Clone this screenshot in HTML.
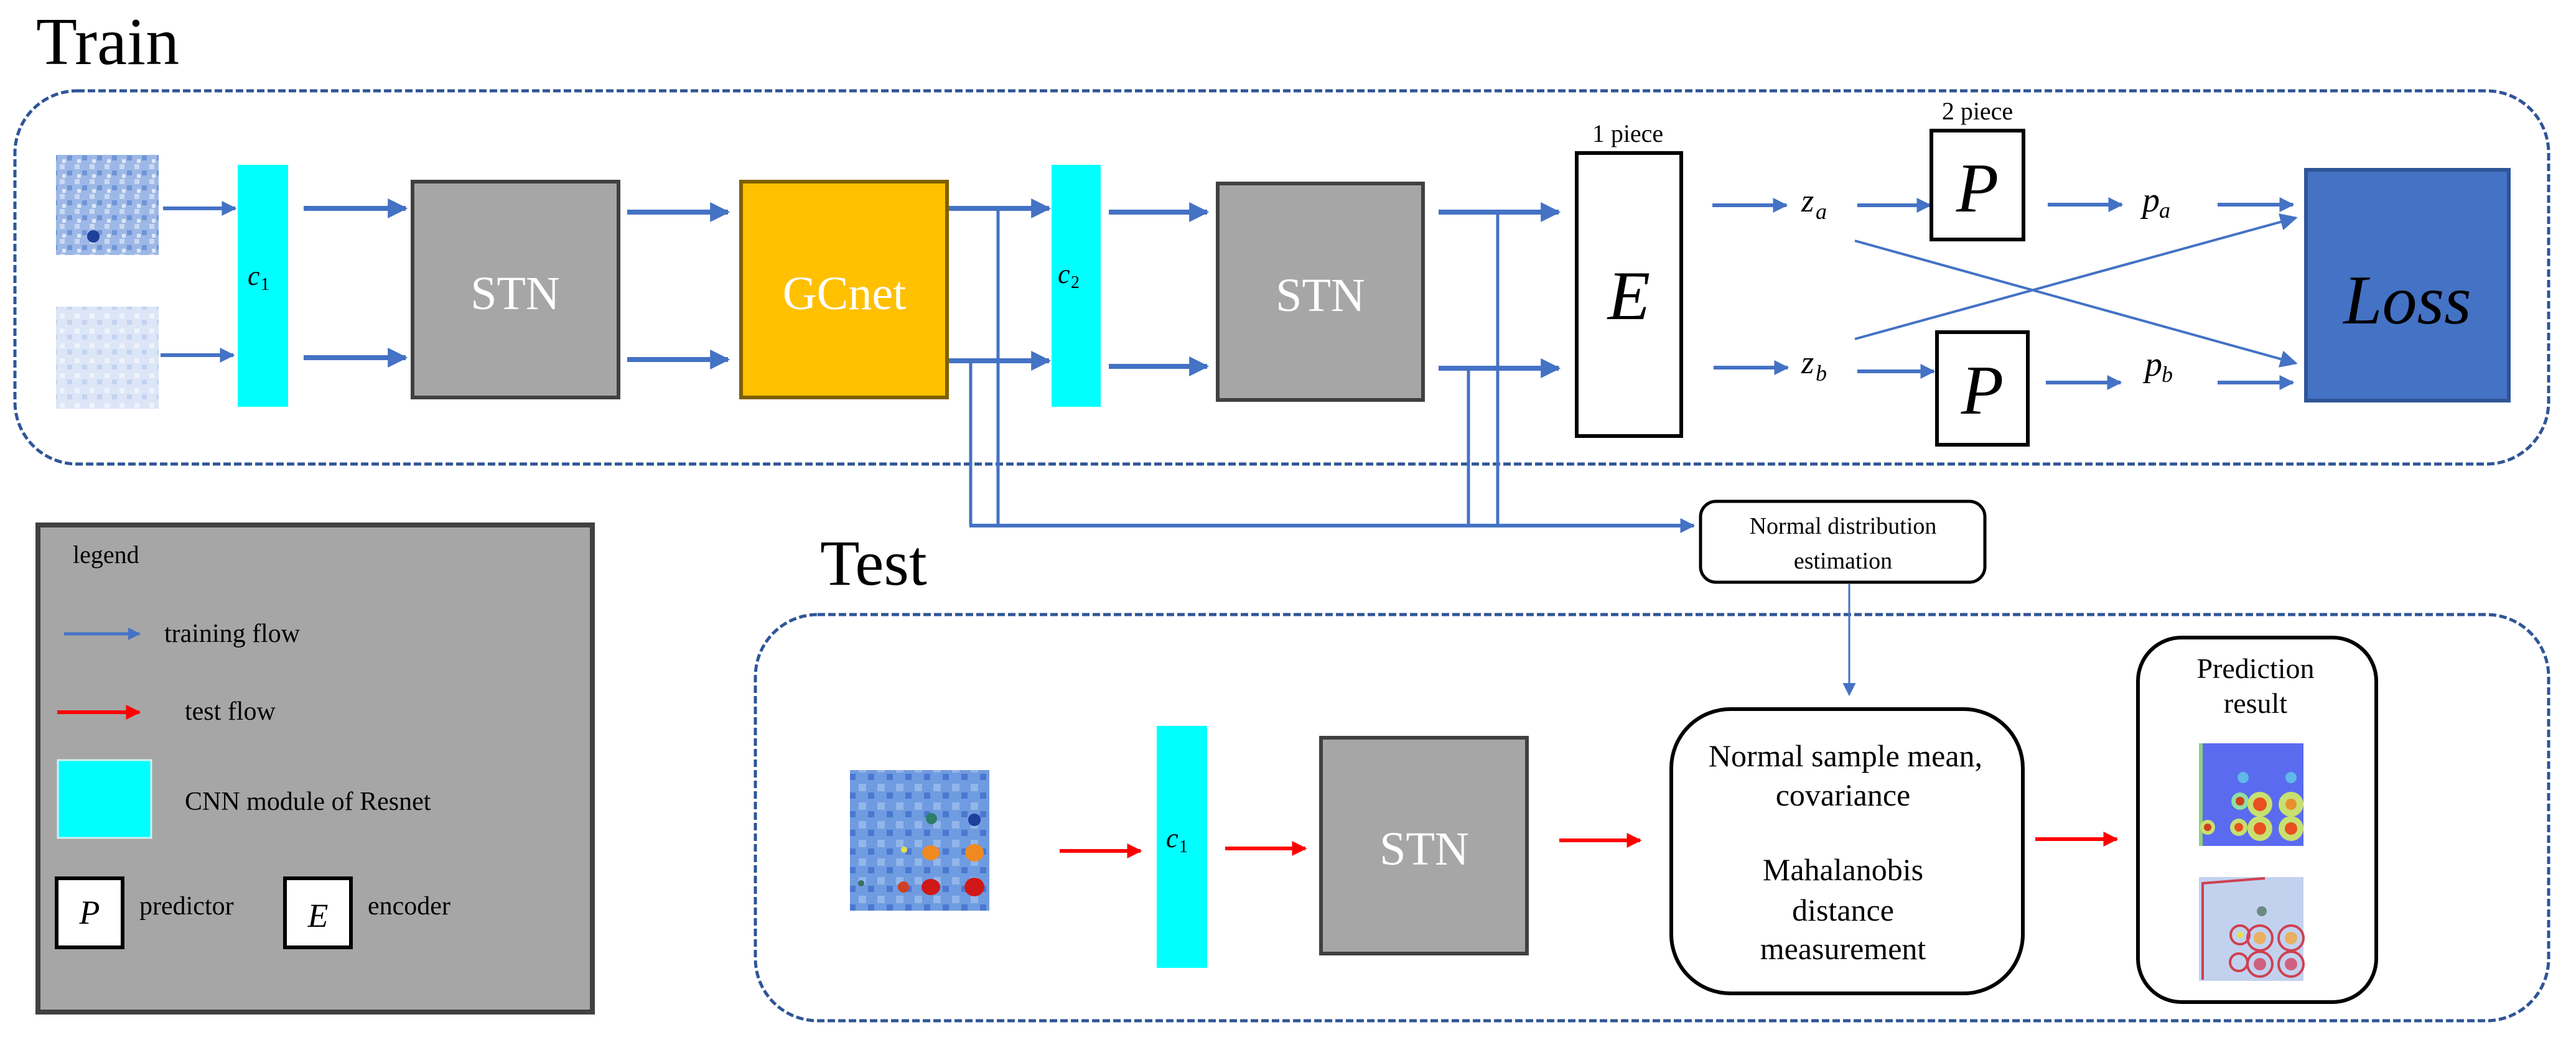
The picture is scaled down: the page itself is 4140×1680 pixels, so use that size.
<!DOCTYPE html>
<html><head><meta charset="utf-8"><style>
html,body{margin:0;padding:0;background:#fff;}
svg{display:block;}
svg text{font-family:"Liberation Serif","DejaVu Serif","Noto Serif CJK SC",serif;}
</style></head><body>
<svg width="4140" height="1680" viewBox="0 0 4140 1680" xmlns="http://www.w3.org/2000/svg">
<defs>
<marker id="ab" viewBox="0 0 10 10" refX="9" refY="5" markerWidth="4" markerHeight="4" orient="auto" markerUnits="strokeWidth"><path d="M0,0 L10,5 L0,10 z" fill="#4472C4"/></marker>
<marker id="abs" viewBox="0 0 10 10" refX="9" refY="5" markerWidth="7" markerHeight="7" orient="auto" markerUnits="strokeWidth"><path d="M0,0 L10,5 L0,10 z" fill="#4472C4"/></marker>
<marker id="ar" viewBox="0 0 10 10" refX="9" refY="5" markerWidth="4" markerHeight="4" orient="auto" markerUnits="strokeWidth"><path d="M0,0 L10,5 L0,10 z" fill="#FF0000"/></marker>
<pattern id="n1" width="24" height="24" patternUnits="userSpaceOnUse"><rect width="24" height="24" fill="#9DB8E6"/><rect x="0" y="0" width="8" height="8" fill="#C9D9F2"/><rect x="12" y="10" width="8" height="8" fill="#6F95D8"/><rect x="4" y="16" width="6" height="6" fill="#DDE7F7"/></pattern>
<pattern id="n2" width="24" height="24" patternUnits="userSpaceOnUse"><rect width="24" height="24" fill="#DCE6F7"/><rect x="0" y="0" width="8" height="8" fill="#EEF3FB"/><rect x="12" y="10" width="8" height="8" fill="#C3D4F0"/></pattern>
<pattern id="n3" width="30" height="30" patternUnits="userSpaceOnUse"><rect width="30" height="30" fill="#6F9BE0"/><rect x="0" y="0" width="12" height="12" fill="#93B6EA"/><rect x="15" y="14" width="10" height="10" fill="#4A78D0"/></pattern>
</defs>
<text x="58" y="103" font-size="108">Train</text>
<text x="1318" y="940" font-size="104">Test</text>

<rect x="24" y="146" width="4072" height="600" rx="100" ry="100" fill="none" stroke="#2F5597" stroke-width="5" stroke-dasharray="12,5"/>
<rect x="1214" y="988" width="2882" height="653" rx="100" ry="100" fill="none" stroke="#2F5597" stroke-width="5" stroke-dasharray="12,5"/>

<rect x="90" y="249" width="165" height="161" fill="url(#n1)"/>
<circle cx="150" cy="380" r="10" fill="#1E3F9A"/>
<rect x="90" y="493" width="165" height="164" fill="url(#n2)"/>

<rect x="382" y="265" width="81" height="389" fill="#00FFFF"/>
<text x="398" y="458" font-size="44" font-style="italic">c</text><text x="419" y="466" font-size="28">1</text>

<line x1="262" y1="335" x2="378" y2="335" stroke="#4472C4" stroke-width="6" marker-end="url(#ab)"/>
<line x1="258" y1="571" x2="375" y2="571" stroke="#4472C4" stroke-width="6" marker-end="url(#ab)"/>
<line x1="488" y1="335" x2="652" y2="335" stroke="#4472C4" stroke-width="8" marker-end="url(#ab)"/>
<line x1="488" y1="575" x2="652" y2="575" stroke="#4472C4" stroke-width="8" marker-end="url(#ab)"/>

<rect x="663" y="292" width="331" height="347" fill="#A6A6A6" stroke="#404040" stroke-width="6"/>
<text x="828" y="497" font-size="76" fill="#fff" text-anchor="middle">STN</text>

<line x1="1008" y1="341" x2="1170" y2="341" stroke="#4472C4" stroke-width="8" marker-end="url(#ab)"/>
<line x1="1008" y1="578" x2="1170" y2="578" stroke="#4472C4" stroke-width="8" marker-end="url(#ab)"/>

<rect x="1191" y="292" width="331" height="347" fill="#FFC000" stroke="#7F6000" stroke-width="6"/>
<text x="1357" y="497" font-size="76" fill="#fff" text-anchor="middle">GCnet</text>

<line x1="1525" y1="335" x2="1686" y2="335" stroke="#4472C4" stroke-width="8" marker-end="url(#ab)"/>
<line x1="1525" y1="580" x2="1686" y2="580" stroke="#4472C4" stroke-width="8" marker-end="url(#ab)"/>

<rect x="1690" y="265" width="79" height="389" fill="#00FFFF"/>
<text x="1700" y="455" font-size="44" font-style="italic">c</text><text x="1721" y="463" font-size="28">2</text>

<line x1="1782" y1="341" x2="1940" y2="341" stroke="#4472C4" stroke-width="8" marker-end="url(#ab)"/>
<line x1="1782" y1="589" x2="1940" y2="589" stroke="#4472C4" stroke-width="8" marker-end="url(#ab)"/>

<rect x="1957" y="295" width="330" height="348" fill="#A6A6A6" stroke="#404040" stroke-width="6"/>
<text x="2122" y="500" font-size="76" fill="#fff" text-anchor="middle">STN</text>

<line x1="2312" y1="341" x2="2505" y2="341" stroke="#4472C4" stroke-width="8" marker-end="url(#ab)"/>
<line x1="2312" y1="592" x2="2505" y2="592" stroke="#4472C4" stroke-width="8" marker-end="url(#ab)"/>

<g stroke="#4472C4" stroke-width="5" fill="none">
<line x1="1604" y1="335" x2="1604" y2="845"/>
<line x1="1560" y1="580" x2="1560" y2="845"/>
<line x1="2407" y1="341" x2="2407" y2="845"/>
<line x1="2360" y1="592" x2="2360" y2="845"/>
</g>
<line x1="1558" y1="845" x2="2722" y2="845" stroke="#4472C4" stroke-width="6" marker-end="url(#ab)"/>

<text x="2616" y="228" font-size="40" text-anchor="middle">1 piece</text>
<rect x="2534" y="246" width="168" height="455" fill="#fff" stroke="#000" stroke-width="6"/>
<text x="2618" y="513" font-size="112" font-style="italic" text-anchor="middle">E</text>

<line x1="2752" y1="330" x2="2871" y2="330" stroke="#4472C4" stroke-width="6" marker-end="url(#ab)"/>
<text x="2895" y="340" font-size="52" font-style="italic">z</text><text x="2918" y="352" font-size="36" font-style="italic">a</text>
<line x1="2985" y1="330" x2="3102" y2="330" stroke="#4472C4" stroke-width="6" marker-end="url(#ab)"/>
<line x1="2754" y1="591" x2="2873" y2="591" stroke="#4472C4" stroke-width="6" marker-end="url(#ab)"/>
<text x="2895" y="600" font-size="52" font-style="italic">z</text><text x="2918" y="612" font-size="36" font-style="italic">b</text>
<line x1="2985" y1="597" x2="3108" y2="597" stroke="#4472C4" stroke-width="6" marker-end="url(#ab)"/>

<text x="3178" y="192" font-size="40" text-anchor="middle">2 piece</text>
<rect x="3104" y="210" width="148" height="175" fill="#fff" stroke="#000" stroke-width="6"/>
<text x="3178" y="340" font-size="112" font-style="italic" text-anchor="middle">P</text>
<rect x="3113" y="534" width="146" height="181" fill="#fff" stroke="#000" stroke-width="6"/>
<text x="3186" y="665" font-size="112" font-style="italic" text-anchor="middle">P</text>

<line x1="3291" y1="329" x2="3410" y2="329" stroke="#4472C4" stroke-width="6" marker-end="url(#ab)"/>
<text x="3443" y="340" font-size="56" font-style="italic">p</text><text x="3470" y="350" font-size="36" font-style="italic">a</text>
<line x1="3564" y1="329" x2="3685" y2="329" stroke="#4472C4" stroke-width="6" marker-end="url(#ab)"/>
<line x1="3288" y1="615" x2="3408" y2="615" stroke="#4472C4" stroke-width="6" marker-end="url(#ab)"/>
<text x="3447" y="604" font-size="56" font-style="italic">p</text><text x="3474" y="614" font-size="36" font-style="italic">b</text>
<line x1="3564" y1="615" x2="3685" y2="615" stroke="#4472C4" stroke-width="6" marker-end="url(#ab)"/>

<line x1="2981" y1="387" x2="3690" y2="584" stroke="#4472C4" stroke-width="4" marker-end="url(#abs)"/>
<line x1="2981" y1="545" x2="3690" y2="350" stroke="#4472C4" stroke-width="4" marker-end="url(#abs)"/>

<rect x="3706" y="273" width="326" height="371" fill="#4472C4" stroke="#2F5597" stroke-width="6"/>
<text x="3869" y="520" font-size="112" font-style="italic" text-anchor="middle">Loss</text>

<rect x="61" y="844" width="891" height="783" fill="#A6A6A6" stroke="#404040" stroke-width="8"/>
<text x="117" y="905" font-size="40">legend</text>
<line x1="103" y1="1019" x2="224" y2="1019" stroke="#4472C4" stroke-width="5" marker-end="url(#ab)"/>
<text x="264" y="1032" font-size="42">training flow</text>
<line x1="92" y1="1145" x2="224" y2="1145" stroke="#FF0000" stroke-width="6" marker-end="url(#ar)"/>
<text x="297" y="1157" font-size="42">test flow</text>
<rect x="93" y="1222" width="150" height="125" fill="#00FFFF" stroke="#D0F0F0" stroke-width="3"/>
<text x="297" y="1302" font-size="42">CNN module of Resnet</text>
<rect x="91" y="1412" width="106" height="111" fill="#fff" stroke="#000" stroke-width="6"/>
<text x="144" y="1485" font-size="54" font-style="italic" text-anchor="middle">P</text>
<text x="224" y="1470" font-size="42">predictor</text>
<rect x="458" y="1412" width="106" height="111" fill="#fff" stroke="#000" stroke-width="6"/>
<text x="511" y="1490" font-size="54" font-style="italic" text-anchor="middle">E</text>
<text x="591" y="1470" font-size="42">encoder</text>

<rect x="2733" y="806" width="457" height="130" rx="25" ry="25" fill="#fff" stroke="#000" stroke-width="5"/>
<text x="2962" y="858" font-size="38" text-anchor="middle">Normal distribution</text>
<text x="2962" y="914" font-size="38" text-anchor="middle">estimation</text>
<line x1="2972" y1="939" x2="2972" y2="1117" stroke="#4472C4" stroke-width="3" marker-end="url(#abs)"/>

<rect x="1366" y="1238" width="224" height="226" fill="url(#n3)"/>
<circle cx="1497" cy="1316" r="9" fill="#2E7D6A"/>
<circle cx="1566" cy="1318" r="10" fill="#1E3F9A"/>
<circle cx="1453" cy="1366" r="5" fill="#E8E040"/>
<ellipse cx="1496" cy="1371" rx="14" ry="12" fill="#F08A20"/>
<ellipse cx="1566" cy="1371" rx="15" ry="14" fill="#F08A20"/>
<ellipse cx="1452" cy="1426" rx="9" ry="9" fill="#D04020"/>
<ellipse cx="1496" cy="1426" rx="15" ry="13" fill="#D01818"/>
<ellipse cx="1566" cy="1426" rx="16" ry="15" fill="#D01818"/>
<circle cx="1384" cy="1420" r="5" fill="#3A7060"/>

<line x1="1703" y1="1368" x2="1833" y2="1368" stroke="#FF0000" stroke-width="6" marker-end="url(#ar)"/>
<rect x="1859" y="1167" width="81" height="389" fill="#00FFFF"/>
<text x="1874" y="1362" font-size="44" font-style="italic">c</text><text x="1895" y="1370" font-size="28">1</text>
<line x1="1969" y1="1364" x2="2098" y2="1364" stroke="#FF0000" stroke-width="6" marker-end="url(#ar)"/>

<rect x="2123" y="1186" width="331" height="347" fill="#A6A6A6" stroke="#404040" stroke-width="6"/>
<text x="2289" y="1390" font-size="76" fill="#fff" text-anchor="middle">STN</text>

<line x1="2506" y1="1351" x2="2636" y2="1351" stroke="#FF0000" stroke-width="6" marker-end="url(#ar)"/>

<rect x="2686" y="1140" width="565" height="457" rx="95" ry="95" fill="#fff" stroke="#000" stroke-width="6"/>
<g font-size="50" text-anchor="middle">
<text x="2966" y="1232">Normal sample mean,</text>
<text x="2962" y="1295">covariance</text>
<text x="2962" y="1415">Mahalanobis</text>
<text x="2962" y="1480">distance</text>
<text x="2962" y="1542">measurement</text>
</g>

<line x1="3271" y1="1349" x2="3402" y2="1349" stroke="#FF0000" stroke-width="6" marker-end="url(#ar)"/>

<rect x="3436" y="1025" width="383" height="586" rx="70" ry="70" fill="#fff" stroke="#000" stroke-width="6"/>
<text x="3625" y="1090" font-size="46" text-anchor="middle">Prediction</text>
<text x="3625" y="1146" font-size="46" text-anchor="middle">result</text>

<rect x="3534" y="1195" width="168" height="165" fill="#5A6BF0"/>
<rect x="3534" y="1195" width="6" height="165" fill="#8FD080"/>
<circle cx="3600" cy="1288" r="14" fill="#8FE0A0"/><circle cx="3600" cy="1288" r="7" fill="#D04020"/>
<circle cx="3632" cy="1293" r="20" fill="#C8E070"/><circle cx="3632" cy="1293" r="11" fill="#E85020"/>
<circle cx="3682" cy="1293" r="20" fill="#C8E070"/><circle cx="3682" cy="1293" r="9" fill="#E89030"/>
<circle cx="3548" cy="1330" r="12" fill="#C8E070"/><circle cx="3548" cy="1330" r="6" fill="#D04020"/>
<circle cx="3598" cy="1330" r="14" fill="#C8E070"/><circle cx="3598" cy="1330" r="7" fill="#E85020"/>
<circle cx="3632" cy="1332" r="20" fill="#C8E070"/><circle cx="3632" cy="1332" r="10" fill="#E85020"/>
<circle cx="3682" cy="1332" r="20" fill="#C8E070"/><circle cx="3682" cy="1332" r="10" fill="#E85020"/>
<circle cx="3605" cy="1250" r="9" fill="#5FB8E8"/><circle cx="3682" cy="1250" r="9" fill="#5FB8E8"/>

<rect x="3534" y="1410" width="168" height="167" fill="#C2D2EE"/>
<g fill="none" stroke="#D04050" stroke-width="4">
<path d="M3540,1575 L3540,1420 L3640,1412"/>
<circle cx="3600" cy="1503" r="15"/><circle cx="3632" cy="1508" r="20"/><circle cx="3682" cy="1508" r="20"/>
<circle cx="3598" cy="1547" r="14"/><circle cx="3632" cy="1550" r="20"/><circle cx="3682" cy="1550" r="20"/>
</g>
<circle cx="3632" cy="1508" r="10" fill="#E8B060"/><circle cx="3682" cy="1508" r="10" fill="#E8B060"/>
<circle cx="3632" cy="1550" r="10" fill="#D06080"/><circle cx="3682" cy="1550" r="10" fill="#D06080"/>
<circle cx="3600" cy="1503" r="5" fill="#E8E040"/><circle cx="3635" cy="1465" r="8" fill="#6A8A80"/>
</svg>
</body></html>
